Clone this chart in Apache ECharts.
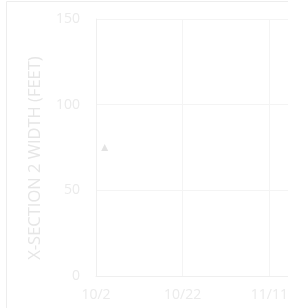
<!DOCTYPE html>
<html>
<head>
<meta charset="utf-8">
<script src="https://cdn.jsdelivr.net/npm/echarts@6/dist/echarts.min.js"></script>
<style>
  html, body { margin: 0; padding: 0; background: #fff; overflow: hidden; }
  #wrap { width: 288px; height: 308px; overflow: hidden; }
  #chart { width: 356px; height: 308px; }
</style>
</head>
<body>
<div id="wrap"><div id="chart"></div></div>
<script>
// axis start date and tick dates
const startDate = '2017-10-02';
const tickLabels = ['10/2', '10/22', '11/11', '12/1'];
// measured points
const pointDates = ['2017-10-04'];
const widthValues = [75];
const yTicks = [0, 50, 100, 150];

const DAY = 86400000;
const t0 = new Date(startDate + 'T00:00:00Z').getTime();
const dayOffset = d => Math.round((new Date(d + 'T00:00:00Z').getTime() - t0) / DAY);

const chart = echarts.init(document.getElementById('chart'));

const option = {
  animation: false,
  textStyle: { fontFamily: 'Open Sans' },
  graphic: [{
    type: 'rect',
    shape: { x: 6.5, y: 1.5, width: 400, height: 330 },
    style: { fill: 'none', stroke: '#ededed', lineWidth: 1 }
  }],
  grid: { left: 96, top: 19, bottom: 32, right: 0, outerBoundsMode: 'none' },
  xAxis: {
    type: 'value',
    min: 0,
    max: 60,
    interval: 20,
    axisLine: { lineStyle: { color: '#efefef' } },
    axisTick: { show: false },
    splitLine: { lineStyle: { color: '#f4f4f4' } },
    axisLabel: {
      color: '#ebebeb',
      fontSize: 14,
      margin: 12,
      formatter: v => tickLabels[v / 20] || ''
    }
  },
  yAxis: {
    type: 'value',
    min: yTicks[0],
    max: yTicks[yTicks.length - 1],
    interval: 50,
    name: 'X-SECTION 2 WIDTH (FEET)',
    nameLocation: 'middle',
    nameGap: 52,
    nameTextStyle: { color: '#e6e6e6', fontSize: 16.5, padding: [0, 21, 0, 0] },
    axisLine: { show: true, lineStyle: { color: '#efefef' } },
    axisTick: { show: false },
    splitLine: { lineStyle: { color: '#f4f4f4' } },
    axisLabel: { color: '#ebebeb', fontSize: 14, margin: 16 }
  },
  series: [{
    type: 'scatter',
    symbol: 'triangle',
    symbolSize: 7,
    itemStyle: { color: '#dcdcdc' },
    data: pointDates.map((d, i) => [dayOffset(d), widthValues[i]])
  }]
};

chart.setOption(option);
</script>
</body>
</html>
